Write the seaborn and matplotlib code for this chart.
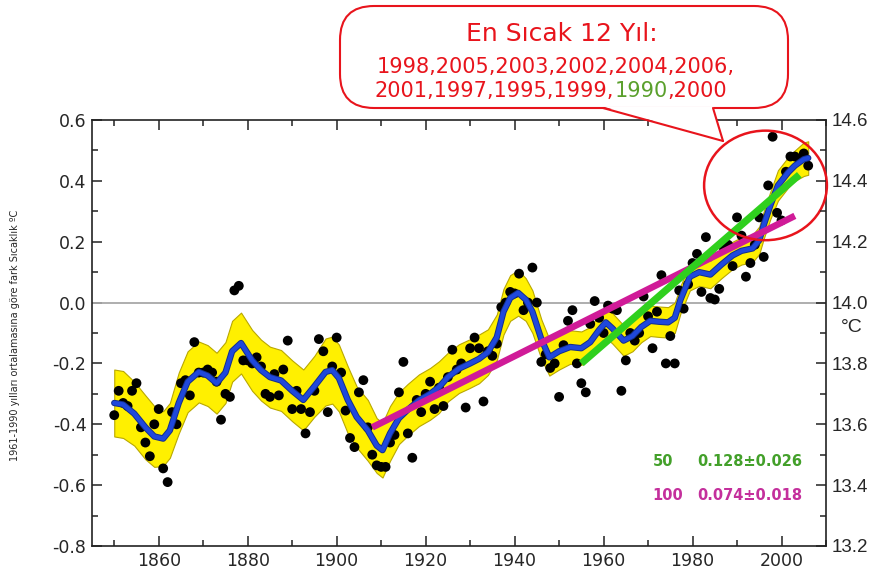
import numpy as np
import matplotlib
matplotlib.use('Agg')
import matplotlib.pyplot as plt
import matplotlib.patheffects as pe
import seaborn as sns
from matplotlib.patches import Ellipse, FancyBboxPatch, Polygon
from matplotlib.lines import Line2D
from matplotlib.text import Annotation
from matplotlib.transforms import IdentityTransform
from matplotlib.ticker import MultipleLocator, FormatStrFormatter

# annual anomalies, 1850-2006
years = list(range(1850, 2007))
anomaly = [
    -0.37, -0.29, -0.33, -0.34, -0.29, -0.265, -0.41, -0.46, -0.505, -0.40,
    -0.35, -0.545, -0.59, -0.36, -0.40, -0.265, -0.255, -0.305, -0.13, -0.23,
    -0.23, -0.22, -0.23, -0.26, -0.385, -0.30, -0.31, 0.04, 0.055, -0.19,
    -0.19, -0.20, -0.18, -0.21, -0.30, -0.31, -0.235, -0.305, -0.22, -0.125,
    -0.35, -0.29, -0.35, -0.43, -0.36, -0.29, -0.12, -0.16, -0.36, -0.21,
    -0.115, -0.23, -0.355, -0.445, -0.475, -0.295, -0.255, -0.41, -0.50, -0.535,
    -0.54, -0.54, -0.46, -0.435, -0.295, -0.195, -0.43, -0.51, -0.32, -0.36,
    -0.30, -0.26, -0.35, -0.28, -0.34, -0.245, -0.155, -0.22, -0.20, -0.345,
    -0.15, -0.115, -0.15, -0.325, -0.16, -0.175, -0.135, -0.015, 0.00, 0.035,
    0.03, 0.095, -0.025, 0.00, 0.115, 0.00, -0.195, -0.17, -0.215, -0.20,
    -0.31, -0.14, -0.06, -0.025, -0.20, -0.265, -0.295, -0.07, 0.005, -0.05,
    -0.10, -0.01, -0.02, -0.025, -0.29, -0.19, -0.10, -0.125, -0.10, 0.02,
    -0.045, -0.15, -0.03, 0.09, -0.20, -0.11, -0.20, 0.04, -0.02, 0.06,
    0.13, 0.16, 0.035, 0.215, 0.015, 0.01, 0.045, 0.18, 0.19, 0.12,
    0.28, 0.22, 0.085, 0.13, 0.19, 0.28, 0.15, 0.385, 0.545, 0.295,
    0.27, 0.43, 0.48, 0.48, 0.47, 0.49, 0.45,
]

# smoothed (decadal) curve and its uncertainty half-width
smooth_years = [
    1850, 1852, 1854.5, 1857, 1859, 1861, 1862.5, 1864.5, 1866.5, 1869,
    1871, 1873, 1875, 1876.5, 1878.5, 1881, 1883, 1885, 1887.5, 1890,
    1892.5, 1895, 1897.5, 1899, 1900.5, 1902.5, 1904.5, 1907, 1909, 1910.3,
    1912, 1914, 1916, 1918.5, 1921, 1923, 1925, 1927.5, 1930, 1932,
    1934, 1936, 1937.5, 1939, 1940.8, 1942.5, 1944, 1946, 1947.8, 1950,
    1952.5, 1955, 1957, 1959, 1960.5, 1962, 1964.5, 1966.5, 1968.5, 1970.5,
    1972.5, 1974.5, 1976, 1977.3, 1979.4, 1981.5, 1984, 1986.5, 1989, 1991,
    1993.5, 1995, 1996, 1997.5, 1999.2, 2001.5, 2003, 2005, 2006,
]
smooth_vals = [
    -0.33, -0.335, -0.365, -0.41, -0.44, -0.447, -0.42, -0.33, -0.26, -0.228,
    -0.24, -0.265, -0.23, -0.16, -0.133, -0.19, -0.222, -0.245, -0.256, -0.29,
    -0.32, -0.275, -0.228, -0.222, -0.248, -0.32, -0.376, -0.42, -0.47, -0.485,
    -0.43, -0.38, -0.352, -0.321, -0.30, -0.278, -0.245, -0.217, -0.20, -0.185,
    -0.163, -0.114, -0.03, 0.015, 0.032, 0.01, -0.03, -0.12, -0.18, -0.16,
    -0.146, -0.15, -0.13, -0.09, -0.065, -0.085, -0.125, -0.11, -0.08, -0.06,
    -0.063, -0.065, -0.05, 0.01, 0.085, 0.10, 0.092, 0.125, 0.155, 0.17,
    0.178, 0.205, 0.255, 0.32, 0.385, 0.428, 0.45, 0.471, 0.475,
]
band_half = [
    .11, .11, .105, .105, .10, .09, .09, .10, .10, .10,
    .10, .10, .10, .10, .10, .10, .10, .10, .10, .10,
    .10, .10, .11, .11, .11, .11, .10, .10, .09, .09,
    .09, .085, .085, .085, .085, .085, .08, .08, .08, .08,
    .075, .075, .075, .075, .075, .07, .07, .065, .06, .06,
    .055, .055, .05, .05, .05, .05, .05, .05, .05, .05,
    .05, .05, .05, .045, .045, .045, .045, .045, .045, .045,
    .045, .045, .045, .045, .05, .05, .05, .055, .055,
]

# linear trends (end points)
trend100_years = [1908, 2003]
trend100_vals = [-0.41, 0.285]
trend50_years = [1955, 2004]
trend50_vals = [-0.20, 0.42]

hottest_title = 'En Sıcak 12 Yıl:'
hottest_row1 = ['1998', '2005', '2003', '2002', '2004', '2006']
hottest_row2 = ['2001', '1997', '1995', '1999', '1990', '2000']

RED = '#e8141c'
GREEN_TXT = '#43a02a'
MAGENTA_TXT = '#c42f9c'

sns.set_style('ticks')
plt.rcParams['font.family'] = ['DejaVu Sans']

W, H = 877, 577
fig = plt.figure(figsize=(W / 100, H / 100), dpi=100)
ax = fig.add_axes([92 / W, 31 / H, 734 / W, 426 / H])

lo = np.array(smooth_vals) - np.array(band_half)
hi = np.array(smooth_vals) + np.array(band_half)
ax.axhline(0, color='#a8a8a8', lw=1.3, zorder=1)
ax.fill_between(smooth_years, lo, hi, facecolor='#fff000', edgecolor='#b9a800',
                lw=0.8, zorder=2)
sns.scatterplot(x=years, y=anomaly, ax=ax, color='black', s=50,
                edgecolor='none', zorder=3, legend=False)
sns.lineplot(x=smooth_years, y=smooth_vals, ax=ax, color='#1f48dc', lw=3.2,
             zorder=4, estimator=None,
             path_effects=[pe.Stroke(linewidth=4.6, foreground='#132e8c'), pe.Normal()])
ax.plot(trend100_years, trend100_vals, color='#d01b98', lw=4.8,
        solid_capstyle='butt', zorder=5)
ax.plot(trend50_years, trend50_vals, color='#2fd01e', lw=5.2,
        solid_capstyle='butt', zorder=6)

ax.set_xlim(1845, 2010)
ax.set_ylim(-0.8, 0.6)
ax.xaxis.set_major_locator(MultipleLocator(20))
ax.xaxis.set_minor_locator(MultipleLocator(10))
ax.yaxis.set_major_locator(MultipleLocator(0.2))
ax.yaxis.set_minor_locator(MultipleLocator(0.1))
ax.yaxis.set_major_formatter(FormatStrFormatter('%.1f'))
ax.tick_params(which='both', direction='in', top=True, right=False,
               color='#222222', width=1.1)
ax.tick_params(which='major', length=7)
ax.tick_params(which='minor', length=4)
ax.tick_params(axis='y', labelsize=12.5, pad=4)
ax.tick_params(axis='x', labelsize=12.5, pad=4)
for lab in ax.get_xticklabels():
    lab.set_family(['Liberation Sans Narrow', 'DejaVu Sans'])
for sp in ax.spines.values():
    sp.set_linewidth(1.2)
    sp.set_color('#222222')
ax.set_xlabel('')
ax.set_ylabel('')

ax2 = ax.twinx()
ax2.set_ylim(13.2, 14.6)
ax2.yaxis.set_major_locator(MultipleLocator(0.2))
ax2.yaxis.set_minor_locator(MultipleLocator(0.1))
ax2.yaxis.set_major_formatter(FormatStrFormatter('%.1f'))
ax2.tick_params(which='both', direction='in', color='#222222', width=1.1, pad=4)
ax2.tick_params(which='major', length=7)
ax2.tick_params(which='minor', length=4)
ax2.tick_params(axis='y', labelsize=13.5)
for lab in ax2.get_yticklabels():
    lab.set_family(['Liberation Sans', 'DejaVu Sans'])
for sp in ax2.spines.values():
    sp.set_visible(False)
fig.text(852 / W, 1 - 327 / H, '°C', ha='center', va='center', fontsize=14,
         family=['Liberation Sans', 'DejaVu Sans'])

fig.text(15 / W, 1 - 335 / H, '1961-1990 yılları ortalamasına göre fark Sıcaklık ºC',
         rotation=90, ha='center', va='center', fontsize=7)

# trend legend
fig.text(653 / W, 1 - 462 / H, '50', color=GREEN_TXT, fontsize=10.5,
         fontweight='bold', va='center')
fig.text(697 / W, 1 - 462 / H, '0.128±0.026', color=GREEN_TXT, fontsize=10.5,
         fontweight='bold', va='center')
fig.text(652 / W, 1 - 495 / H, '100', color=MAGENTA_TXT, fontsize=10.5,
         fontweight='bold', va='center')
fig.text(697 / W, 1 - 495 / H, '0.074±0.018', color=MAGENTA_TXT, fontsize=10.5,
         fontweight='bold', va='center')

# ellipse around the recent warm years
ax.add_patch(Ellipse((1996.4, 0.385), width=27.6, height=0.36, fill=False,
                     ec=RED, lw=1.8, clip_on=False, zorder=7))

# speech balloon
px = IdentityTransform()
box = FancyBboxPatch((340, H - 108), 448, 102,
                     boxstyle='round,pad=0,rounding_size=34',
                     transform=px, fc='white', ec=RED, lw=1.5, zorder=8)
fig.add_artist(box)
tail = Polygon([(603, H - 106.5), (723, H - 141), (713, H - 106.5)], closed=True,
               transform=px, fc='white', ec='none', zorder=9)
fig.add_artist(tail)
fig.add_artist(Line2D([603, 723], [H - 108, H - 141], transform=px, color=RED,
                      lw=1.5, zorder=10))
fig.add_artist(Line2D([713, 723], [H - 108, H - 141], transform=px, color=RED,
                      lw=1.5, zorder=10))

fig.text(562 / W, 1 - 34 / H, hottest_title, ha='center', va='center',
         fontsize=18, color=RED, zorder=11)
fig.text(556 / W, 1 - 67 / H, ','.join(hottest_row1) + ',', ha='center',
         va='center', fontsize=15, color=RED, zorder=11)
t = fig.text(375 / W, 1 - 91 / H, ','.join(hottest_row2[:4]) + ',', ha='left',
             va='center', fontsize=15, color=RED, zorder=11)
t = fig.add_artist(Annotation(hottest_row2[4], xy=(1, 0), xycoords=t, ha='left',
                              va='bottom', fontsize=15, color='#5aa02c', zorder=11))
fig.add_artist(Annotation(',' + hottest_row2[5], xy=(1, 0), xycoords=t, ha='left',
                          va='bottom', fontsize=15, color=RED, zorder=11))

fig.savefig('out.png', dpi=100)
